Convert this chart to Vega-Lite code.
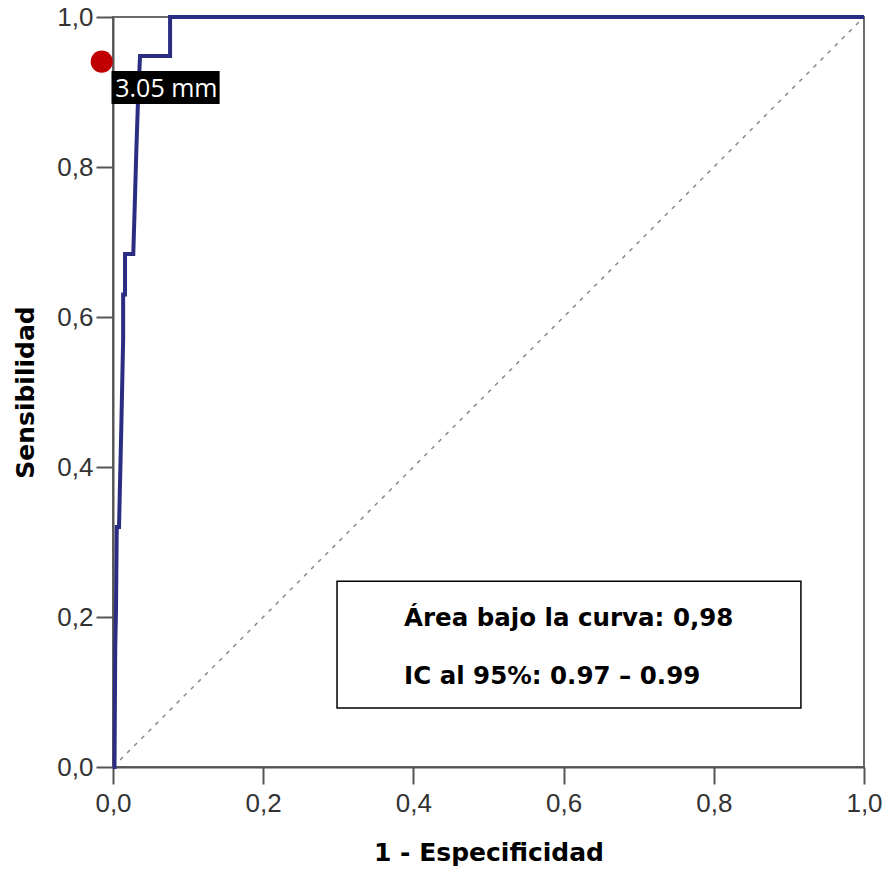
{
  "$schema": "https://vega.github.io/schema/vega-lite/v6.json",
  "width": 751,
  "height": 750,
  "autosize": {"type": "none"},
  "padding": {"left": 113, "top": 17, "right": 21, "bottom": 103},
  "background": "white",
  "config": {
    "view": {"stroke": "#6a6a6a", "strokeWidth": 2}
  },
  "datasets": {
    "roc": [
      {"o": 0, "x": 0.0, "y": 0.0},
      {"o": 1, "x": 0.002, "y": 0.0},
      {"o": 2, "x": 0.003, "y": 0.16},
      {"o": 3, "x": 0.004, "y": 0.21},
      {"o": 4, "x": 0.005, "y": 0.32},
      {"o": 5, "x": 0.008, "y": 0.32},
      {"o": 6, "x": 0.011, "y": 0.45},
      {"o": 7, "x": 0.0135, "y": 0.57},
      {"o": 8, "x": 0.0135, "y": 0.63},
      {"o": 9, "x": 0.016, "y": 0.63},
      {"o": 10, "x": 0.016, "y": 0.684},
      {"o": 11, "x": 0.027, "y": 0.684},
      {"o": 12, "x": 0.029, "y": 0.75},
      {"o": 13, "x": 0.031, "y": 0.82},
      {"o": 14, "x": 0.033, "y": 0.88},
      {"o": 15, "x": 0.036, "y": 0.948},
      {"o": 16, "x": 0.076, "y": 0.948},
      {"o": 17, "x": 0.076, "y": 1.0},
      {"o": 18, "x": 1.0, "y": 1.0}
    ],
    "diag": [
      {"x": 0, "y": 0},
      {"x": 1, "y": 1}
    ],
    "box": [
      {"x": 0.2983, "x2": 0.916, "y": 0.2477, "y2": 0.0786}
    ],
    "boxtext": [
      {"x": 0.3875, "y": 0.1877, "t": "Área bajo la curva: 0,98"},
      {"x": 0.3875, "y": 0.1105, "t": "IC al 95%: 0.97 – 0.99"}
    ],
    "lab": [
      {"x": -0.002, "x2": 0.142, "y": 0.884, "y2": 0.928}
    ],
    "labtext": [
      {"x": 0.003, "y": 0.8935, "t": "3.05 mm"}
    ],
    "dot": [
      {"x": -0.015, "y": 0.9405}
    ]
  },
  "encoding": {
    "x": {
      "field": "x",
      "type": "quantitative",
      "scale": {"domain": [0, 1], "nice": false, "zero": false},
      "axis": {
        "values": [0, 0.2, 0.4, 0.6, 0.8, 1.0],
        "labelExpr": "replace(format(datum.value, '.1f'), '.', ',')",
        "grid": false,
        "domainColor": "#555555",
        "domainWidth": 2,
        "tickColor": "#555555",
        "tickWidth": 2,
        "tickSize": 17,
        "labelFont": "Liberation Sans",
        "labelFontSize": 26,
        "labelColor": "#333333",
        "labelPadding": 6,
        "labelFlush": false,
        "title": "1 - Especificidad",
        "titleFont": "DejaVu Sans",
        "titleFontWeight": "bold",
        "titleFontSize": 25,
        "titleColor": "#000000",
        "titlePadding": 24
      }
    },
    "y": {
      "field": "y",
      "type": "quantitative",
      "scale": {"domain": [0, 1], "nice": false, "zero": false},
      "axis": {
        "values": [0, 0.2, 0.4, 0.6, 0.8, 1.0],
        "labelExpr": "replace(format(datum.value, '.1f'), '.', ',')",
        "grid": false,
        "domainColor": "#555555",
        "domainWidth": 2,
        "tickColor": "#555555",
        "tickWidth": 2,
        "tickSize": 17,
        "labelFont": "Liberation Sans",
        "labelFontSize": 26,
        "labelColor": "#333333",
        "labelPadding": 3,
        "labelFlush": false,
        "title": "Sensibilidad",
        "titleFont": "DejaVu Sans",
        "titleFontWeight": "bold",
        "titleFontSize": 25,
        "titleColor": "#000000",
        "titlePadding": 18
      }
    }
  },
  "layer": [
    {
      "data": {"name": "diag"},
      "mark": {"type": "line", "color": "#8a8a8a", "strokeWidth": 1.5, "strokeDash": [4, 6]},
      "encoding": {}
    },
    {
      "data": {"name": "roc"},
      "mark": {"type": "line", "color": "#2b2d82", "strokeWidth": 4, "strokeJoin": "miter"},
      "encoding": {"order": {"field": "o", "type": "quantitative"}}
    },
    {
      "data": {"name": "box"},
      "mark": {"type": "rect", "fill": "white", "stroke": "#000000", "strokeWidth": 1.5},
      "encoding": {"x2": {"field": "x2"}, "y2": {"field": "y2"}}
    },
    {
      "data": {"name": "boxtext"},
      "mark": {"type": "text", "font": "DejaVu Sans", "fontWeight": "bold", "fontSize": 24.5, "align": "left", "baseline": "alphabetic", "color": "#000000"},
      "encoding": {"text": {"field": "t"}}
    },
    {
      "data": {"name": "lab"},
      "mark": {"type": "rect", "fill": "#000000"},
      "encoding": {"x2": {"field": "x2"}, "y2": {"field": "y2"}}
    },
    {
      "data": {"name": "labtext"},
      "mark": {"type": "text", "font": "Open Sans", "fontSize": 25, "align": "left", "baseline": "alphabetic", "color": "#ffffff"},
      "encoding": {"text": {"field": "t"}}
    },
    {
      "data": {"name": "dot"},
      "mark": {"type": "point", "filled": true, "shape": "circle", "size": 490, "color": "#c00000", "opacity": 1},
      "encoding": {}
    }
  ]
}
